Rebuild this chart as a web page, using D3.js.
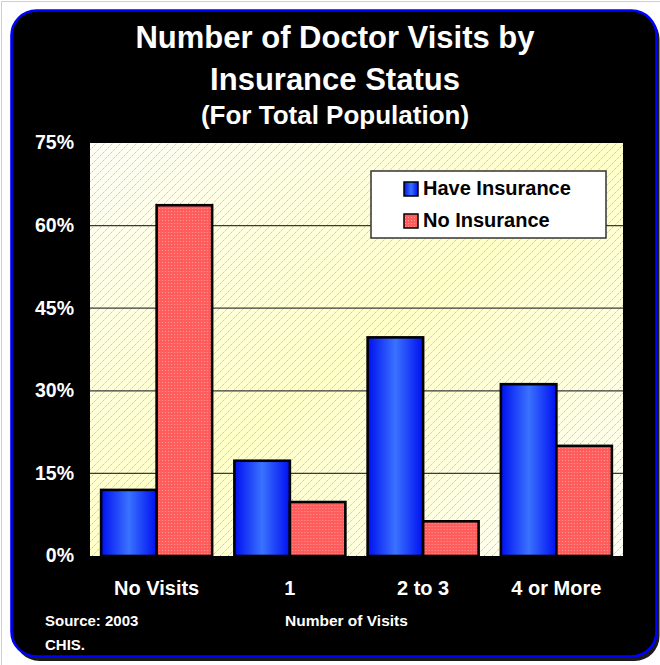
<!DOCTYPE html>
<html>
<head>
<meta charset="utf-8">
<script src="https://cdn.jsdelivr.net/npm/d3@7/dist/d3.min.js"></script>
<style>
  html, body { margin: 0; padding: 0; background: #fff; }
  svg { display: block; }
  text { font-family: Arial, "Liberation Sans", sans-serif; font-weight: bold; }
</style>
</head>
<body>
<script>
// Chart data
const categories = ["No Visits", "1", "2 to 3", "4 or More"];
const seriesNames = ["Have Insurance", "No Insurance"];
const haveInsurance = [12.0, 17.3, 39.7, 31.2];
const noInsurance = [63.7, 9.8, 6.3, 20.0];
const yTicks = [0, 15, 30, 45, 60, 75];
const titleLines = ["Number of Doctor Visits by", "Insurance Status", "(For Total Population)"];

const W = 660, H = 665;
const svg = d3.select("body").append("svg").attr("width", W).attr("height", H);
const defs = svg.append("defs");

// Plot-area fill: diagonal white→yellow→white gradient with dotted hatching
const bg = defs.append("linearGradient").attr("id", "bgGrad")
  .attr("x1", 0).attr("y1", 0).attr("x2", 1).attr("y2", 1);
bg.append("stop").attr("offset", "0%").attr("stop-color", "#fdfdf6");
bg.append("stop").attr("offset", "50%").attr("stop-color", "#ffffc8");
bg.append("stop").attr("offset", "100%").attr("stop-color", "#fdfdf6");

const hatch = defs.append("pattern").attr("id", "hatch")
  .attr("patternUnits", "userSpaceOnUse").attr("width", 8).attr("height", 8);
hatch.append("path").attr("d", "M-1,9 L9,-1 M-1,1 L1,-1 M7,9 L9,7")
  .attr("stroke", "#a8a89a").attr("stroke-width", 0.9).attr("stroke-dasharray", "1.2,1.2");

// Blue bars: bright centre, deeper blue edges
const blueGrad = defs.append("linearGradient").attr("id", "blueGrad")
  .attr("x1", 0).attr("y1", 0).attr("x2", 1).attr("y2", 0);
blueGrad.append("stop").attr("offset", "0%").attr("stop-color", "#0010f0");
blueGrad.append("stop").attr("offset", "50%").attr("stop-color", "#3a72ff");
blueGrad.append("stop").attr("offset", "100%").attr("stop-color", "#0010f0");

// Red bars: salmon with a fine lighter dot texture
const redPat = defs.append("pattern").attr("id", "redDots")
  .attr("patternUnits", "userSpaceOnUse").attr("width", 3).attr("height", 3);
redPat.append("rect").attr("width", 3).attr("height", 3).attr("fill", "#ff5c5c");
redPat.append("rect").attr("x", 1).attr("y", 1).attr("width", 1).attr("height", 1).attr("fill", "#ff9a9a");

const fills = ["url(#blueGrad)", "url(#redDots)"];

// Frame: light page border, drop shadow, black rounded panel with blue outline
svg.append("path").attr("d", `M1.5,${H} V1.5 H${W}`).attr("fill", "none").attr("stroke", "#cfcfcf");
svg.append("rect").attr("x", 14.5).attr("y", 14).attr("width", 645).attr("height", 647)
  .attr("rx", 25).attr("fill", "#1a1a1a");
svg.append("rect").attr("x", 11.5).attr("y", 10.5).attr("width", 645).attr("height", 646)
  .attr("rx", 25).attr("fill", "#000").attr("stroke", "#0000ff").attr("stroke-width", 2.6);

// Title
const titleY = [48, 90, 124];
const titleSize = [31, 31, 26];
titleLines.forEach((t, i) => {
  svg.append("text").attr("x", 335).attr("y", titleY[i]).attr("text-anchor", "middle")
    .attr("fill", "#fff").attr("font-size", titleSize[i]).text(t);
});

// Plot geometry
const plot = { left: 90, right: 623, top: 143, bottom: 556 };
const x = d3.scaleBand().domain(categories).range([plot.left, plot.right])
  .paddingInner(0.167).paddingOuter(0.0835);
const xs = d3.scaleBand().domain(seriesNames).range([0, x.bandwidth()]).padding(0);
const y = d3.scaleLinear().domain([0, 75]).range([plot.bottom, plot.top]);

const g = svg.append("g");
g.append("rect").attr("x", plot.left).attr("y", plot.top)
  .attr("width", plot.right - plot.left).attr("height", plot.bottom - plot.top).attr("fill", "url(#bgGrad)");
g.append("rect").attr("x", plot.left).attr("y", plot.top)
  .attr("width", plot.right - plot.left).attr("height", plot.bottom - plot.top).attr("fill", "url(#hatch)");

// Gridlines
g.selectAll("line.grid").data(yTicks.filter(d => d > 0 && d < 75)).join("line")
  .attr("class", "grid")
  .attr("x1", plot.left).attr("x2", plot.right)
  .attr("y1", d => y(d)).attr("y2", d => y(d))
  .attr("stroke", "#3a3a3a").attr("stroke-width", 1.3);

// Y axis labels
const yAxis = d3.axisLeft(y).tickValues(yTicks).tickFormat(d => d + "%").tickSize(0).tickPadding(16);
const ya = svg.append("g").attr("transform", `translate(${plot.left},0)`).call(yAxis);
ya.select(".domain").remove();
ya.selectAll("text").attr("fill", "#fff").attr("font-size", 19.5)
  .attr("font-family", "Arial, 'Liberation Sans', sans-serif").attr("font-weight", "bold")
  .attr("dy", "0.3em");

// Bars
const rows = categories.map((c, i) => ({ cat: c, vals: [haveInsurance[i], noInsurance[i]] }));
const groups = g.selectAll("g.cat").data(rows).join("g")
  .attr("transform", d => `translate(${x(d.cat)},0)`);
groups.selectAll("rect").data(d => d.vals.map((v, k) => ({ v, k }))).join("rect")
  .attr("x", d => xs(seriesNames[d.k]))
  .attr("y", d => y(d.v))
  .attr("width", xs.bandwidth())
  .attr("height", d => y(0) - y(d.v))
  .attr("fill", d => fills[d.k])
  .attr("stroke", "#000").attr("stroke-width", 2.6);

// X axis labels
const xAxis = d3.axisBottom(x).tickSize(0).tickPadding(0);
const xa = svg.append("g").attr("transform", `translate(0,${plot.bottom})`).call(xAxis);
xa.select(".domain").remove();
xa.selectAll("text").attr("fill", "#fff").attr("font-size", 20)
  .attr("font-family", "Arial, 'Liberation Sans', sans-serif").attr("font-weight", "bold")
  .attr("dy", 0).attr("y", 39);

// Legend
const leg = svg.append("g").attr("transform", "translate(371,171)");
leg.append("rect").attr("width", 235).attr("height", 67).attr("fill", "#fff")
  .attr("stroke", "#333").attr("stroke-width", 1.5);
seriesNames.forEach((s, i) => {
  leg.append("rect").attr("x", 33).attr("y", 11 + i * 32).attr("width", 14).attr("height", 14)
    .attr("fill", fills[i]).attr("stroke", "#000").attr("stroke-width", 1.5);
  leg.append("text").attr("x", 52).attr("y", 24 + i * 32).attr("fill", "#000")
    .attr("font-size", 20).text(s);
});

// Footer texts
svg.append("text").attr("x", 45).attr("y", 626).attr("fill", "#fff").attr("font-size", 15).text("Source: 2003");
svg.append("text").attr("x", 45).attr("y", 650).attr("fill", "#fff").attr("font-size", 15).text("CHIS.");
svg.append("text").attr("x", 285).attr("y", 626).attr("fill", "#fff").attr("font-size", 15.5).text("Number of Visits");
</script>
</body>
</html>
